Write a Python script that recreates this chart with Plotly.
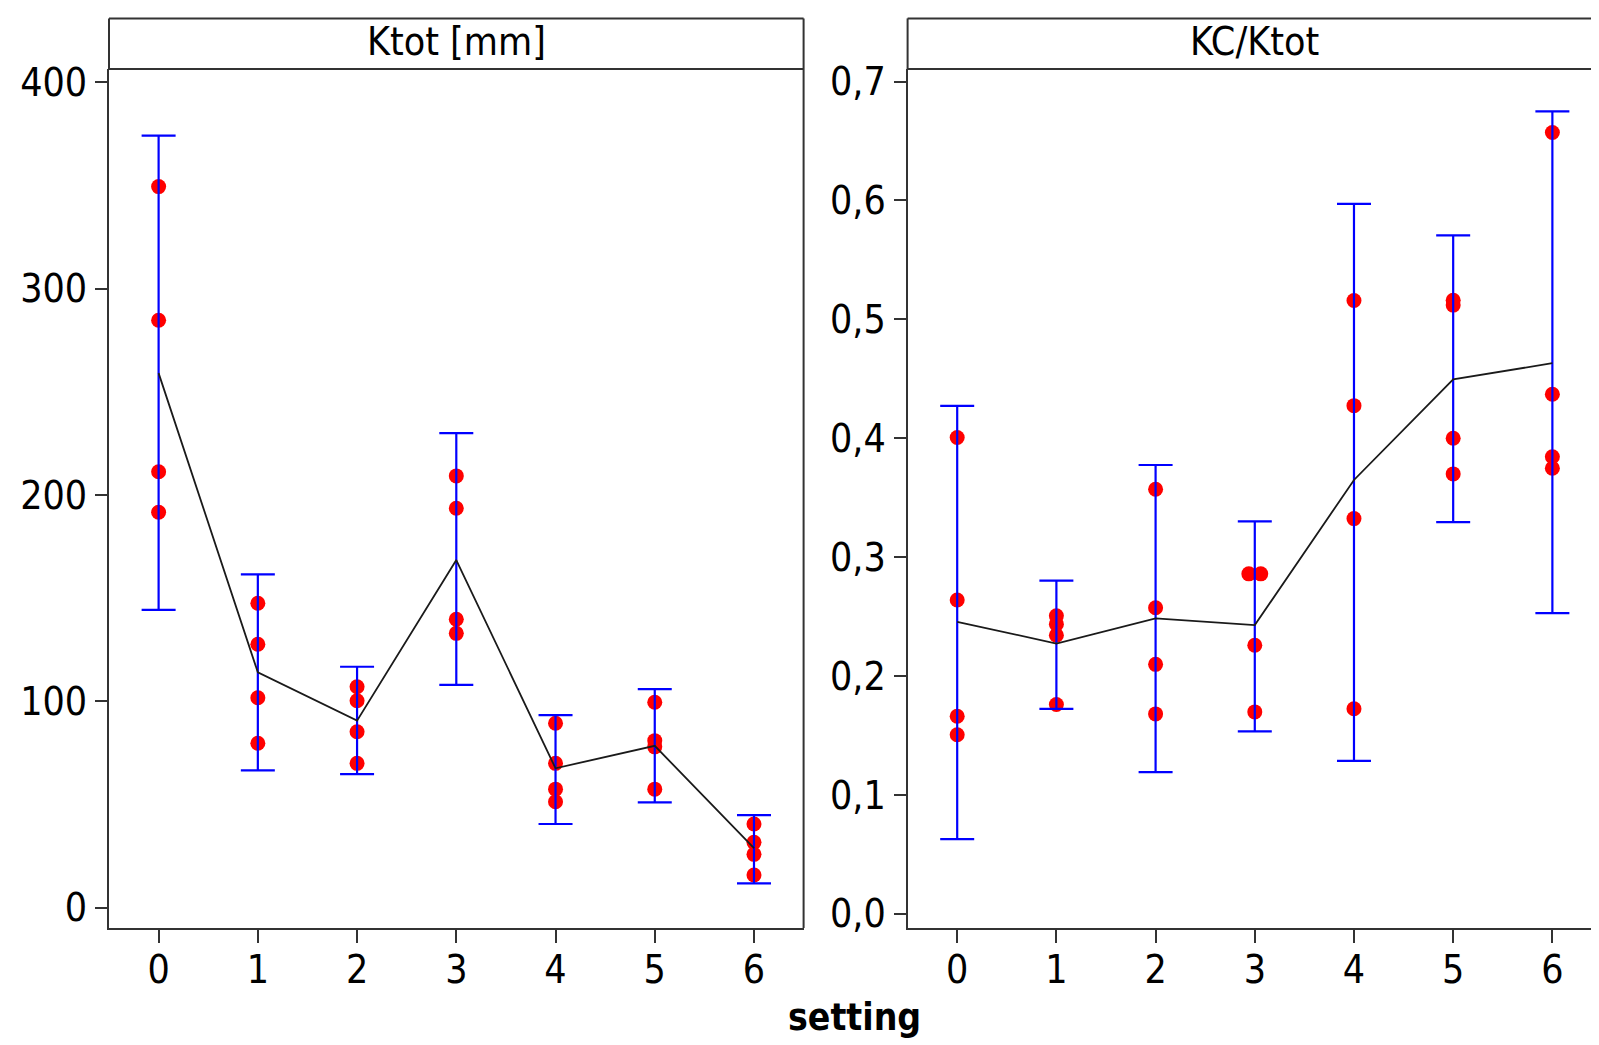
import plotly.graph_objects as go

# ---------------- data ----------------
settings = [0, 1, 2, 3, 4, 5, 6]
x_tick_labels = ["0", "1", "2", "3", "4", "5", "6"]

ktot_points = [
    [349.4, 284.6, 211.2, 191.6],
    [147.5, 127.6, 101.7, 79.6],
    [107.0, 100.2, 85.2, 69.9],
    [209.2, 193.5, 139.7, 132.9],
    [89.3, 69.9, 57.4, 51.3],
    [99.5, 80.9, 77.9, 57.4],
    [40.5, 31.6, 25.8, 15.8],
]
ktot_mean = [259.0, 114.0, 90.6, 168.4, 67.5, 78.4, 28.8]
ktot_upper = [374.1, 161.5, 116.7, 229.9, 93.3, 105.9, 44.8]
ktot_lower = [144.3, 66.5, 64.7, 107.9, 40.5, 51.0, 11.7]
ktot_tickvals = [0, 100, 200, 300, 400]
ktot_ticktext = ["0", "100", "200", "300", "400"]

ratio_points = [
    [0.4006, 0.2639, 0.1661, 0.1506],
    [0.2507, 0.2436, 0.2343, 0.1760],
    [0.3571, 0.2574, 0.2098, 0.1681],
    [0.2859, 0.2859, 0.2259, 0.1698],
    [0.5159, 0.4274, 0.3324, 0.1724],
    [0.5160, 0.5120, 0.4000, 0.3700],
    [0.6572, 0.4370, 0.3844, 0.3748],
]
ratio_mean = [0.2456, 0.2273, 0.2484, 0.2428, 0.3649, 0.4496, 0.4631]
ratio_upper = [0.4273, 0.2802, 0.3775, 0.3301, 0.5971, 0.5706, 0.6749]
ratio_lower = [0.0627, 0.1724, 0.1191, 0.1534, 0.1286, 0.3294, 0.2528]
ratio_tickvals = [0.0, 0.1, 0.2, 0.3, 0.4, 0.5, 0.6, 0.7]
ratio_ticktext = ["0,0", "0,1", "0,2", "0,3", "0,4", "0,5", "0,6", "0,7"]

panel_titles = ["Ktot [mm]", "KC/Ktot"]
x_title = "setting"

# ---------------- figure ----------------
OFF = 8  # default body margin of the page
W, H = 1599 - OFF, 1045 - OFF
ML, MR, MT, MB = 109 - OFF, 0, 69 - OFF, 117
PW, PH = W - ML - MR, H - MT - MB


def px_x(p):  # page pixel -> paper x
    return (p - OFF - ML) / PW


def px_y(p):  # page pixel -> paper y
    return (OFF + H - MB - p) / PH


FONT = "DejaVu Sans Condensed, DejaVu Sans, Verdana, sans-serif"
AXC = "#333333"

left_dom = [0.0, px_x(803.6)]
right_dom = [px_x(907.6), 1.0]

fig = go.Figure()


def dodge(vals, step=0.06):
    offs = []
    for i, v in enumerate(vals):
        same = [j for j, w in enumerate(vals) if abs(w - v) < 1e-9]
        if len(same) > 1:
            k = same.index(i)
            offs.append((k - (len(same) - 1) / 2) * 2 * step)
        else:
            offs.append(0.0)
    return offs


def add_panel(points, mean, upper, lower, xa, ya):
    px_, py_ = [], []
    for s, vals in zip(settings, points):
        for v, o in zip(vals, dodge(vals)):
            px_.append(s + o)
            py_.append(v)
    fig.add_trace(go.Scatter(
        x=px_, y=py_, mode="markers", xaxis=xa, yaxis=ya,
        marker=dict(color="#ff0000", size=15, line=dict(width=0)),
        showlegend=False, hoverinfo="skip"))
    fig.add_trace(go.Scatter(
        x=settings, y=mean, mode="lines", xaxis=xa, yaxis=ya,
        line=dict(color="#1a1a1a", width=1.8),
        error_y=dict(type="data", symmetric=False,
                     array=[u - m for u, m in zip(upper, mean)],
                     arrayminus=[m - l for m, l in zip(mean, lower)],
                     color="#0000ff", thickness=2.2, width=17),
        showlegend=False, hoverinfo="skip"))


add_panel(ktot_points, ktot_mean, ktot_upper, ktot_lower, "x", "y")
add_panel(ratio_points, ratio_mean, ratio_upper, ratio_lower, "x2", "y2")

common_x = dict(
    tickvals=settings, ticktext=x_tick_labels, showgrid=False, zeroline=False,
    showline=True, linecolor=AXC, linewidth=2, ticks="outside", ticklen=13,
    tickwidth=2, tickcolor=AXC, tickfont=dict(family=FONT, size=39, color="black"),
    ticklabelstandoff=-7,
)
common_y = dict(
    showgrid=False, zeroline=False, showline=True, linecolor=AXC, linewidth=2,
    ticks="outside", ticklen=12, tickwidth=2, tickcolor=AXC,
    tickfont=dict(family=FONT, size=39, color="black"),
)

fig.update_layout(
    width=W, height=H,
    margin=dict(l=ML, r=MR, t=MT, b=MB, pad=0),
    paper_bgcolor="white", plot_bgcolor="white",
    showlegend=False, hovermode=False,
    xaxis=dict(domain=left_dom, range=[-0.5, 6.5], anchor="y", **common_x),
    yaxis=dict(domain=[0, 1], range=[-9.9, 406.4], anchor="x",
               tickvals=ktot_tickvals, ticktext=ktot_ticktext, **common_y),
    xaxis2=dict(domain=right_dom, range=[-0.5, 6.47], anchor="y2", **common_x),
    yaxis2=dict(domain=[0, 1], range=[-0.012, 0.7106], anchor="x2",
                tickvals=ratio_tickvals, ticktext=ratio_ticktext, **common_y),
)

# strips and borders
strip_top = px_y(18.4)
shapes = []
for dom, right_edge in ((left_dom, True), (right_dom, False)):
    x0, x1 = dom
    line = dict(color=AXC, width=2)
    shapes.append(dict(type="line", xref="paper", yref="paper", x0=x0, x1=x1, y0=1, y1=1, line=line))
    shapes.append(dict(type="line", xref="paper", yref="paper", x0=x0, x1=x1, y0=strip_top, y1=strip_top, line=line))
    shapes.append(dict(type="line", xref="paper", yref="paper", x0=x0, x1=x0, y0=1, y1=strip_top, line=line))
    if right_edge:
        shapes.append(dict(type="line", xref="paper", yref="paper", x0=x1, x1=x1, y0=0, y1=strip_top, line=line))
fig.update_layout(shapes=shapes)

ann = []
ann.append(dict(text=panel_titles[0], xref="paper", yref="paper",
                x=(left_dom[0] + left_dom[1]) / 2, y=px_y(42), showarrow=False,
                xanchor="center", yanchor="middle",
                font=dict(family=FONT, size=39, color="black")))
ann.append(dict(text=panel_titles[1], xref="paper", yref="paper",
                x=px_x(1254), y=px_y(42), showarrow=False,
                xanchor="center", yanchor="middle",
                font=dict(family=FONT, size=39, color="black")))
ann.append(dict(text="<b>" + x_title + "</b>", xref="paper", yref="paper",
                x=px_x(854), y=px_y(1018), showarrow=False,
                xanchor="center", yanchor="middle",
                font=dict(family=FONT, size=37, color="black")))
fig.update_layout(annotations=ann)

fig.write_html("out.html")
